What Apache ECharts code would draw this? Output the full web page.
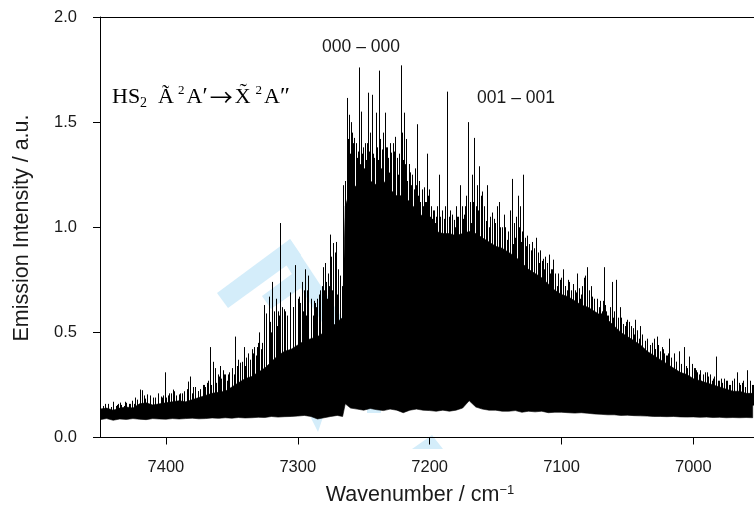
<!DOCTYPE html>
<html><head><meta charset="utf-8">
<script src="https://cdn.jsdelivr.net/npm/echarts@6/dist/echarts.min.js"></script>
<style>html,body{margin:0;padding:0;background:#fff}#c{width:754px;height:509px}</style>
</head><body><div id="c"></div>
<script>
// ---- axis ticks ----
const xTickValues = [7400, 7300, 7200, 7100, 7000];
const xRange = [6954, 7450];
const yRange = [0, 2];

// ---- dense emission body (wavenumber, lower edge, upper edge of solid black) ----
const bodyW = [7450,7445,7440,7435,7430,7425,7420,7415,7410,7405,7400,7395,7390,7385,7380,7375,7370,7365,7360,7355,7350,7345,7340,7335,7330,7325,7320,7315,7310,7305,7300,7295,7290,7285,7280,7275,7270,
  7266,7264,
  7260,7255,7250,7245,7240,7235,7230,7225,7220,7215,7210,7205,7200,7195,7190,7185,7180,7175,7170,7165,7160,7155,7150,7145,7140,7135,7130,7125,7120,7115,7110,7105,7100,7095,7090,7085,7080,7075,7070,7065,7060,7055,7050,7045,7040,7035,7030,7025,7020,7015,7010,7005,7000,6995,6990,6985,6980,6975,6970,6965,6960,6955];
const bodyLow = [0.085,0.09,0.082,0.088,0.086,0.09,0.087,0.085,0.09,0.088,0.087,0.09,0.088,0.09,0.092,0.089,0.09,0.093,0.091,0.094,0.092,0.095,0.093,0.094,0.096,0.095,0.1,0.097,0.099,0.1,0.102,0.105,0.1,0.088,0.094,0.1,0.105,
  0.1,0.16,
  0.14,0.135,0.13,0.138,0.132,0.128,0.135,0.13,0.118,0.13,0.135,0.13,0.128,0.125,0.13,0.125,0.13,0.14,0.175,0.145,0.135,0.13,0.13,0.125,0.125,0.128,0.12,0.125,0.122,0.125,0.118,0.12,0.12,0.118,0.116,0.118,0.115,0.112,0.11,0.108,0.108,0.105,0.106,0.104,0.103,0.102,0.1,0.1,0.099,0.1,0.098,0.097,0.098,0.096,0.097,0.095,0.096,0.094,0.095,0.094,0.095,0.094];
const bodyTop = [0.135,0.14,0.13,0.14,0.145,0.14,0.16,0.165,0.155,0.16,0.165,0.17,0.175,0.17,0.18,0.19,0.2,0.21,0.215,0.22,0.24,0.26,0.28,0.29,0.31,0.33,0.36,0.39,0.41,0.42,0.44,0.46,0.47,0.48,0.5,0.52,0.55,
  0.57,1.1,
  1.18,1.2,1.2,1.22,1.2,1.22,1.18,1.15,1.15,1.12,1.08,1.05,1.0,0.98,0.97,0.97,0.96,0.97,0.98,0.97,0.95,0.93,0.91,0.9,0.88,0.86,0.83,0.8,0.78,0.76,0.73,0.7,0.68,0.67,0.65,0.63,0.62,0.6,0.58,0.56,0.53,0.5,0.48,0.46,0.44,0.41,0.39,0.37,0.35,0.33,0.31,0.3,0.28,0.27,0.26,0.25,0.24,0.23,0.22,0.22,0.21,0.21];

// ---- prominent individual lines ----
const spikeW = [7447.5,7444,7439.9,7437,7434.8,7431,7427,7423.4,7419.6,7418.4,7416.5,7414.6,7412,7409.5,7406,7403,7400.7,7398.1,7396,7394.8,7392,7389.3,7386,7383,7381.7,7379.5,7377.9,7376,7374.1,7371.5,7369,7366.5,7364.5,7362.7,7360.5,7358.9,7357,7355.1,7352.6,7350.2,7347.5,7345.5,7343.7,7340.7,7339,7337.4,7334.9,7333.1,7331.1,7329.1,7327.5,7326,7324,7322.2,7321,7319.7,7318,7316.4,7314.8,7313.4,7311.8,7310.3,7308.3,7305.8,7304,7302,7300.2,7298.7,7296.9,7295.5,7294.4,7293,7291.9,7290,7288.1,7286.8,7285.5,7283.5,7282,7280.5,7279.2,7278.5,7277,7275.9,7274.6,7273.4,7272,7270.9,7269.5,7268.3,7266.6,
  7265.8,7264.5,7262.8,7261.5,7260.6,7259.7,7258.5,7257.2,7255.5,7253.9,7252.2,7250.5,7248.9,7247.8,7246.8,7245,7243.8,7242,7240.5,7238.5,7237.3,7236.2,7235,7233.7,7232.5,7231.2,7229.1,7227.5,7226.1,7224.8,7223.6,7221.8,7220.8,7219.8,7218.7,7217.7,7216,7214.7,7213,7211.7,7209.7,7208.3,7207.1,7206,7204.6,7203.3,7202.1,7200.8,7199.5,7197.5,7195.7,7194.5,7193.2,7192,7190.7,7188.5,7186.9,7185.5,7184.3,7183,7181.8,7180,7178.3,7176.7,7175.5,7174.2,7172.5,7170.9,7169.2,7167.8,7166.6,7165.2,7164.1,7162.3,7161.2,7160.3,7158.5,7156.5,7154.5,7152.7,7150.5,7149,7147.1,7145,7143.8,7142.6,7140.5,7139,7137.5,7136,7134.5,7133.2,7132,7131.2,7130,7129.2,7127.8,7126.1,7124.3,7122.3,7120.8,7119.1,7117.5,7116,7114,7112.2,7110.8,7109.7,7108,7106.4,7105,7103.4,7101.5,7100,7098.8,7097.3,7095.8,7094,7092,7090,7088.2,7087,7085.7,7084.3,7083.2,7082,7080.6,7079,7078,7076.8,7075,7073.1,7071.5,7070,7068.8,7067.5,7066.3,7065.5,7063.5,7061.7,7060.2,7058.6,7057,7055.3,7053.5,7051.5,7050.3,7049,7047,7045.5,7044,7042.5,7040.7,7038.9,7037,7035.1,7033,7031.5,7030,7028.8,7027.5,7025.5,7023.7,7022,7020.3,7018.7,7017,7014.9,7013,7011.1,7009.2,7007.3,7005.5,7003.5,7001,6999.5,6997.7,6995.8,6993.9,6991.5,6989.6,6987.5,6985.8,6984,6982.5,6980.3,6978.2,6976.5,6974.4,6972.5,6970.6,6968.8,6966.8,6965.5,6964.3,6962,6959.2,6957.3,6955.4];
const spikeH = [0.15,0.16,0.15,0.155,0.166,0.17,0.16,0.19,0.228,0.225,0.2,0.205,0.185,0.19,0.2,0.19,0.31,0.2,0.21,0.228,0.2,0.21,0.22,0.266,0.29,0.24,0.24,0.22,0.2,0.25,0.26,0.43,0.36,0.33,0.3,0.34,0.32,0.3,0.3,0.33,0.48,0.37,0.356,0.43,0.38,0.4,0.42,0.43,0.43,0.5,0.45,0.63,0.59,0.67,0.55,0.74,0.6,0.66,0.6,1.02,0.62,0.61,0.58,0.69,0.62,0.82,0.66,0.67,0.74,0.7,0.8,0.7,0.77,0.66,0.58,0.64,0.66,0.7,0.72,0.81,0.83,0.74,0.78,0.965,0.86,0.925,0.88,0.93,0.8,0.77,0.72,
  1.2,1.22,1.615,1.535,1.35,1.5,1.4,1.425,1.36,1.76,1.55,1.38,1.3,1.4,1.64,1.45,1.63,1.33,1.545,1.745,1.42,1.37,1.45,1.545,1.38,1.33,1.355,1.4,1.43,1.3,1.35,1.77,1.45,1.545,1.3,1.42,1.3,1.26,1.2,1.165,1.49,1.22,1.07,1.15,1.19,1.12,1.35,1.18,1.0,1.08,0.97,1.1,1.25,1.05,1.035,1.1,1.645,1.05,1.08,1.0,1.035,1.1,1.05,1.2,1.1,1.06,1.15,1.5,1.12,1.25,1.425,1.1,1.2,1.29,1.15,1.17,1.1,1.2,1.05,1.07,1.02,1.1,1.12,1.0,1.06,1.0,0.98,1.08,1.23,1.02,1.05,1.15,1.0,1.1,0.98,1.25,0.95,0.96,0.92,0.93,0.9,0.95,0.88,0.89,0.85,0.86,0.82,0.87,0.8,0.846,0.78,0.72,0.75,0.76,0.8,0.72,0.7,0.74,0.65,0.7,0.78,0.7,0.66,0.72,0.76,0.77,0.81,0.7,0.72,0.67,0.64,0.66,0.62,0.59,0.65,0.81,0.6,0.58,0.62,0.74,0.6,0.75,0.57,0.62,0.54,0.53,0.56,0.55,0.5,0.52,0.56,0.48,0.53,0.48,0.46,0.466,0.44,0.45,0.47,0.42,0.48,0.41,0.43,0.4,0.39,0.47,0.38,0.4,0.36,0.41,0.35,0.43,0.34,0.385,0.35,0.33,0.32,0.3,0.27,0.3,0.31,0.28,0.27,0.29,0.385,0.27,0.26,0.28,0.27,0.25,0.26,0.28,0.31,0.26,0.25,0.27,0.32,0.27,0.25];

// ---- dense minor lines fringing the body, sampled on regular wavenumber grids ----
const fringeSegments = [
  { start: 7450, step: -2, h: [0.15,0.14,0.16,0.15,0.145,0.17,0.15,0.16,0.155,0.15,0.165,0.16,0.175,0.16,0.18,0.17,
      0.2,0.185,0.19,0.2,0.18,0.19,0.21,0.195,0.2,0.19,0.21,0.2,0.22,0.195,0.205,
      0.21,0.2,0.23,0.22,0.21,0.24,0.22,0.23,0.25,0.24,0.27,0.25,0.28,0.26,0.29,
      0.28,0.3,0.27,0.31,0.32,0.3,0.34,0.33,0.36,0.34,0.38,0.37,0.4,0.39] },
  { start: 7330, step: -2, h: [0.45,0.42,0.5,0.48,0.52,0.5,0.55,0.53,0.58,0.52,0.6,0.57,0.55,0.62,0.58,0.6,0.64,0.6,0.58,0.63,0.6,0.65,0.62,0.68,0.64,0.7,0.66,0.72,0.7,0.75,0.68,0.72,0.7] },
  { start: 7263, step: -1, h: [1.3,1.42,1.35,1.28,1.45,1.38,1.3,1.4,1.33,1.36,
      1.3,1.44,1.35,1.28,1.4,1.32,1.48,1.36,1.3,1.42,
      1.35,1.3,1.46,1.38,1.32,1.4,1.28,1.36,1.44,1.3,
      1.38,1.32,1.26,1.4,1.34,1.3,1.36,1.28,1.33,1.25,
      1.3,1.36,1.24,1.32,1.28,1.35,1.22,1.3,1.26,1.2,
      1.25,1.18,1.28,1.2,1.15,1.22,1.12,1.18,1.1,1.15,
      1.12,1.08,1.15,1.05,1.1,1.04,1.08,1.02] },
  { start: 7195, step: -2, h: [1.05,1.02,1.08,1.04,1.1,1.02,1.06,1.0,1.05,1.08,
      1.04,1.1,1.06,1.02,1.12,1.05,1.08,1.0,1.06,1.03,
      1.0,0.98,1.04,0.96,1.0,0.95,0.99,0.94,0.97,0.92,
      0.95,0.9,0.93,0.88,0.91,0.86,0.89,0.84,0.87,0.83,
      0.84,0.8,0.83,0.78,0.8,0.76,0.78,0.74] },
  { start: 7099, step: -2, h: [0.74,0.72,0.75,0.7,0.73,0.69,0.71,0.68,0.7,0.66,
      0.68,0.64,0.66,0.62,0.65,0.6,0.63,0.58,0.61,0.57,
      0.58,0.55,0.57,0.53,0.55,0.51,0.53,0.49,0.51,0.47,
      0.49,0.45,0.47,0.43,0.45,0.42,0.44,0.4,0.42,0.39,
      0.4,0.37,0.39,0.36,0.37,0.34,0.36,0.33,0.34,0.32,
      0.33,0.31,0.32,0.3,0.31,0.29,0.3,0.28,0.29,0.27,
      0.28,0.26,0.27,0.25,0.27,0.25,0.26,0.24,0.26,0.24,
      0.25,0.24,0.25] }
];

// ---- text ----
const bandLabels = [
  { text: '000 \u2013 000', x: 361, y: 47 },
  { text: '001 \u2013 001', x: 516, y: 98 }
];
const xTitle = 'Wavenumber / cm';
const yTitle = 'Emission Intensity / a.u.';

const SANS = "'Liberation Sans', Arial, Helvetica, sans-serif";
const SERIF = "'Liberation Serif', 'Times New Roman', serif";
const WM = '#d4edfa';

// anchor a line's foot inside the body: middle of the nearest body sample
function footOf(w) {
  let j = 0, best = Infinity;
  for (let i = 0; i < bodyW.length; i++) { const d = Math.abs(bodyW[i] - w); if (d < best) { best = d; j = i; } }
  return (bodyLow[j] + bodyTop[j]) / 2;
}

const lines = [];
spikeW.forEach((w, i) => lines.push([w, spikeH[i], footOf(w)]));
fringeSegments.forEach(seg => seg.h.forEach((h, k) => { const w = seg.start + seg.step * k; lines.push([w, h, footOf(w)]); }));

const chart = echarts.init(document.getElementById('c'), null, { renderer: 'canvas' });

const graphics = [
  { type: 'polygon', z: -5, silent: true, shape: { points: [[217,293],[290,239],[301,255],[228,308]] }, style: { fill: WM } },
  { type: 'polygon', z: -5, silent: true, shape: { points: [[290,239],[360,345],[343,356],[280,255]] }, style: { fill: WM } },
  { type: 'polygon', z: -5, silent: true, shape: { points: [[262,296],[296,271],[305,285],[271,309]] }, style: { fill: WM } },
  { type: 'polygon', z: -5, silent: true, shape: { points: [[306,408],[326,408],[318,432]] }, style: { fill: WM } },
  { type: 'polygon', z: -5, silent: true, shape: { points: [[432,435],[443,449],[412,449]] }, style: { fill: WM } },
  { type: 'polygon', z: -5, silent: true, shape: { points: [[367,404],[381,399],[381,413],[367,413]] }, style: { fill: WM } },
  { type: 'text', z: 10, x: 420, y: 495, style: {
      text: '{a|' + xTitle + '}{s|\u22121}', align: 'center', verticalAlign: 'middle',
      rich: { a: { fontFamily: SANS, fontSize: 21.5, fill: '#1a1a1a' },
              s: { fontFamily: SANS, fontSize: 13, fill: '#1a1a1a', verticalAlign: 'top', lineHeight: 14 } } } },
  { type: 'text', z: 10, x: 22, y: 228, rotation: Math.PI / 2, style: {
      text: yTitle, align: 'center', verticalAlign: 'middle', fontFamily: SANS, fontSize: 21.5, fill: '#1a1a1a' } },
  { type: 'text', z: 10, x: 112, y: 97, style: {
      text: '{m|HS}{sb|2}{m|  \u00C3}{sp|2}{m|A}{pr|\u2032}{ar|\u2192}{mx|X\u0303}{sp|2}{m|A}{pr|\u2033}',
      align: 'left', verticalAlign: 'middle',
      rich: { m: { fontFamily: SERIF, fontSize: 22, fill: '#000', lineHeight: 26 },
              mx: { fontFamily: SERIF, fontSize: 22, fill: '#000', lineHeight: 26, padding: [0, 1, 0, 1] },
              pr: { fontFamily: SERIF, fontSize: 24, fill: '#000', lineHeight: 26, padding: [0, 1, 0, 0] },
              ar: { fontFamily: "'Noto Sans CJK SC', 'DejaVu Serif', sans-serif", fontSize: 23, fill: '#000', lineHeight: 26, padding: [0, 1, 0, 1] },
              sb: { fontFamily: SERIF, fontSize: 14, fill: '#000', verticalAlign: 'bottom', lineHeight: 14 },
              sp: { fontFamily: SERIF, fontSize: 13, fill: '#000', verticalAlign: 'top', lineHeight: 14, padding: [0, 2, 0, 4] } } } }
];
bandLabels.forEach(b => graphics.push({ type: 'text', z: 10, x: b.x, y: b.y, style: {
  text: b.text, align: 'center', verticalAlign: 'middle', fontFamily: SANS, fontSize: 17.5, fill: '#1a1a1a' } }));

chart.setOption({
  animation: false,
  backgroundColor: '#fff',
  grid: { left: 100, right: 0, top: 17, bottom: 71.5, containLabel: false },
  xAxis: [{
    type: 'value', min: xRange[0], max: xRange[1], inverse: true,
    axisLine: { show: true, lineStyle: { color: '#000', width: 1 } },
    axisTick: { show: true, inside: false, length: 7, customValues: xTickValues, lineStyle: { color: '#000' } },
    axisLabel: { show: true, customValues: xTickValues, formatter: v => String(v), fontFamily: SANS, fontSize: 16.5, color: '#1a1a1a', margin: 21 },
    splitLine: { show: false }
  }, {
    type: 'value', min: xRange[0], max: xRange[1], inverse: true, position: 'top',
    axisLine: { show: true, onZero: false, lineStyle: { color: '#000', width: 1 } },
    axisTick: { show: false }, axisLabel: { show: false }, splitLine: { show: false }
  }],
  yAxis: {
    type: 'value', min: yRange[0], max: yRange[1], interval: 0.5,
    axisLine: { show: true, lineStyle: { color: '#000', width: 1 } },
    axisTick: { show: true, inside: false, length: 7, lineStyle: { color: '#000' } },
    axisLabel: { formatter: v => v.toFixed(1), fontFamily: SANS, fontSize: 16.5, color: '#1a1a1a', margin: 23 },
    splitLine: { show: false }
  },
  graphic: graphics,
  series: [{
    type: 'custom', z: 5, clip: true,
    data: bodyW.map((w, i) => [w, bodyLow[i], bodyTop[i]]),
    encode: { x: 0, y: [1, 2] },
    renderItem: function (params, api) {
      if (params.dataIndex !== 0) return null;
      const pts = [];
      for (let i = 0; i < bodyW.length; i++) pts.push(api.coord([bodyW[i], bodyTop[i]]));
      for (let i = bodyW.length - 1; i >= 0; i--) pts.push(api.coord([bodyW[i], bodyLow[i]]));
      return { type: 'polygon', shape: { points: pts }, style: { fill: '#000', stroke: '#000', lineWidth: 0.6 } };
    }
  }, {
    type: 'custom', z: 6, clip: true,
    data: lines,
    encode: { x: 0, y: 1 },
    renderItem: function (params, api) {
      const top = api.coord([api.value(0), api.value(1)]);
      const bot = api.coord([api.value(0), api.value(2)]);
      const x = Math.round(top[0]) + 0.5;
      return { type: 'line', shape: { x1: x, y1: bot[1], x2: x, y2: top[1] }, style: { stroke: '#000', lineWidth: 1 } };
    }
  }]
});
</script>
</body></html>
